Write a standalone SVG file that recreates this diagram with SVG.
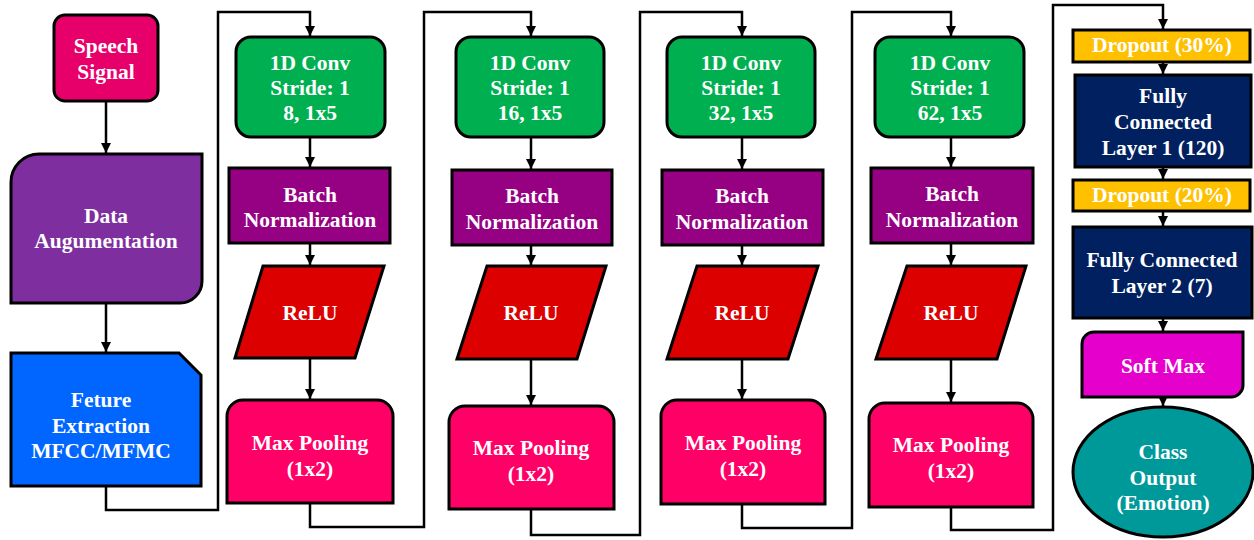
<svg xmlns="http://www.w3.org/2000/svg" width="1254" height="540" viewBox="0 0 1254 540">
<defs>
<marker id="ah" markerUnits="userSpaceOnUse" markerWidth="10" markerHeight="10" refX="10" refY="5" orient="auto">
<path d="M0,0 L10,5 L0,10 Z" fill="#000"/>
</marker>
<style>
.b{stroke:#000;stroke-width:3;stroke-linejoin:miter}
.t{font-family:"Liberation Serif","Times New Roman",serif;font-weight:bold;font-size:21.5px;fill:#fff;text-anchor:middle}
.c{fill:none;stroke:#000;stroke-width:2.5;marker-end:url(#ah)}
.speech{fill:#E8006A}.aug{fill:#7E2E9E}.feat{fill:#0066FF}.conv{fill:#00B050}.bn{fill:#960082}.relu{fill:#DD0000}.mp{fill:#FF0066}.drop{fill:#FFC000}.fc{fill:#002060}.sm{fill:#E600CC}.out{fill:#009999}
</style>
</defs>
<rect width="1254" height="540" fill="#fff"/>
<g id="connectors">
<path class="c" d="M106,101 V153"/>
<path class="c" d="M106,303 V352"/>
<path class="c" d="M106,486 V510 H218 V12 H310 V36"/>
<path class="c" d="M310,137 V167"/>
<path class="c" d="M310,243 V265"/>
<path class="c" d="M310,358 V399"/>
<path class="c" d="M310,503 V527 H424 V12 H531 V36"/>
<path class="c" d="M531,137 V169"/>
<path class="c" d="M531,245 V265"/>
<path class="c" d="M531,359 V405"/>
<path class="c" d="M531,509 V535 H640 V12 H742 V36"/>
<path class="c" d="M742,137 V169"/>
<path class="c" d="M742,245 V265"/>
<path class="c" d="M742,359 V399"/>
<path class="c" d="M742,504 V528 H852 V12 H951 V36"/>
<path class="c" d="M951,137 V167"/>
<path class="c" d="M951,243 V265"/>
<path class="c" d="M951,359 V402"/>
<path class="c" d="M951,507 V530 H1053 V5 H1163 V29"/>
<path class="c" d="M1163,62 V74"/>
<path class="c" d="M1163,167 V179"/>
<path class="c" d="M1163,211 V226"/>
<path class="c" d="M1163,318 V331"/>
<path class="c" d="M1163,397 V406"/>
</g>
<g id="speech">
<rect class="b speech" x="54" y="15" width="104" height="86" rx="11"/>
<text class="t" x="106" y="53">Speech</text>
<text class="t" x="106" y="79">Signal</text>
</g>
<g id="augmentation">
<path class="b aug" d="M39,154 H202 V281 A22,22 0 0 1 180,303 H11 V182 A28,28 0 0 1 39,154 Z"/>
<text class="t" x="106" y="223">Data</text>
<text class="t" x="106" y="248">Augumentation</text>
</g>
<g id="feature">
<path class="b feat" d="M11,353 H179 L201,375 V486 H11 Z"/>
<text class="t" x="101" y="407">Feture</text>
<text class="t" x="101" y="433">Extraction</text>
<text class="t" x="101" y="458">MFCC/MFMC</text>
</g>
<g id="conv1">
<rect class="b conv" x="236" y="37" width="149" height="100" rx="15"/>
<text class="t" x="310" y="70">1D Conv</text>
<text class="t" x="310" y="95">Stride: 1</text>
<text class="t" x="310" y="120">8, 1x5</text>
</g>
<g id="bn1">
<rect class="b bn" x="229" y="168" width="161" height="75"/>
<text class="t" x="310" y="202">Batch</text>
<text class="t" x="310" y="227">Normalization</text>
</g>
<g id="relu1">
<path class="b relu" d="M263,266 H384 L355,358 H235 Z"/>
<text class="t" x="310" y="320">ReLU</text>
</g>
<g id="mp1">
<path class="b mp" d="M227,503 V416 A16,16 0 0 1 243,400 H377 A16,16 0 0 1 393,416 V503 Z"/>
<text class="t" x="310" y="450">Max Pooling</text>
<text class="t" x="310" y="476">(1x2)</text>
</g>
<g id="conv2">
<rect class="b conv" x="456" y="37" width="148" height="100" rx="15"/>
<text class="t" x="530" y="70">1D Conv</text>
<text class="t" x="530" y="95">Stride: 1</text>
<text class="t" x="530" y="120">16, 1x5</text>
</g>
<g id="bn2">
<rect class="b bn" x="452" y="170" width="160" height="75"/>
<text class="t" x="532" y="203">Batch</text>
<text class="t" x="532" y="229">Normalization</text>
</g>
<g id="relu2">
<path class="b relu" d="M487,266 H606 L577,359 H457 Z"/>
<text class="t" x="531" y="320">ReLU</text>
</g>
<g id="mp2">
<path class="b mp" d="M449,509 V422 A16,16 0 0 1 465,406 H598 A16,16 0 0 1 614,422 V509 Z"/>
<text class="t" x="531" y="455">Max Pooling</text>
<text class="t" x="531" y="481">(1x2)</text>
</g>
<g id="conv3">
<rect class="b conv" x="667" y="37" width="148" height="100" rx="15"/>
<text class="t" x="741" y="70">1D Conv</text>
<text class="t" x="741" y="95">Stride: 1</text>
<text class="t" x="741" y="120">32, 1x5</text>
</g>
<g id="bn3">
<rect class="b bn" x="662" y="170" width="161" height="75"/>
<text class="t" x="742" y="203">Batch</text>
<text class="t" x="742" y="229">Normalization</text>
</g>
<g id="relu3">
<path class="b relu" d="M697,266 H818 L788,359 H667 Z"/>
<text class="t" x="742" y="320">ReLU</text>
</g>
<g id="mp3">
<path class="b mp" d="M661,504 V416 A16,16 0 0 1 677,400 H809 A16,16 0 0 1 825,416 V504 Z"/>
<text class="t" x="743" y="450">Max Pooling</text>
<text class="t" x="743" y="476">(1x2)</text>
</g>
<g id="conv4">
<rect class="b conv" x="875" y="37" width="149" height="100" rx="15"/>
<text class="t" x="950" y="70">1D Conv</text>
<text class="t" x="950" y="95">Stride: 1</text>
<text class="t" x="950" y="120">62, 1x5</text>
</g>
<g id="bn4">
<rect class="b bn" x="871" y="168" width="162" height="75"/>
<text class="t" x="952" y="201">Batch</text>
<text class="t" x="952" y="227">Normalization</text>
</g>
<g id="relu4">
<path class="b relu" d="M907,266 H1026 L997,359 H876 Z"/>
<text class="t" x="951" y="320">ReLU</text>
</g>
<g id="mp4">
<path class="b mp" d="M869,507 V419 A16,16 0 0 1 885,403 H1017 A16,16 0 0 1 1033,419 V507 Z"/>
<text class="t" x="951" y="452">Max Pooling</text>
<text class="t" x="951" y="478">(1x2)</text>
</g>
<g id="dropout1">
<rect class="b drop" x="1073" y="30" width="177" height="32"/>
<text class="t" x="1162" y="52">Dropout (30%)</text>
</g>
<g id="fc1">
<rect class="b fc" x="1075" y="75" width="176" height="92"/>
<text class="t" x="1163" y="103">Fully</text>
<text class="t" x="1163" y="129">Connected</text>
<text class="t" x="1163" y="155">Layer 1 (120)</text>
</g>
<g id="dropout2">
<rect class="b drop" x="1073" y="180" width="177" height="31"/>
<text class="t" x="1162" y="202">Dropout (20%)</text>
</g>
<g id="fc2">
<rect class="b fc" x="1073" y="227" width="179" height="91"/>
<text class="t" x="1162" y="267">Fully Connected</text>
<text class="t" x="1162" y="293">Layer 2 (7)</text>
</g>
<g id="softmax">
<path class="b sm" d="M1094,332 H1243 V385 A12,12 0 0 1 1231,397 H1082 V344 A12,12 0 0 1 1094,332 Z"/>
<text class="t" x="1163" y="373">Soft Max</text>
</g>
<g id="output">
<ellipse class="b out" cx="1163" cy="472" rx="90" ry="65"/>
<text class="t" x="1163" y="459">Class</text>
<text class="t" x="1163" y="485">Output</text>
<text class="t" x="1163" y="510">(Emotion)</text>
</g>
</svg>
